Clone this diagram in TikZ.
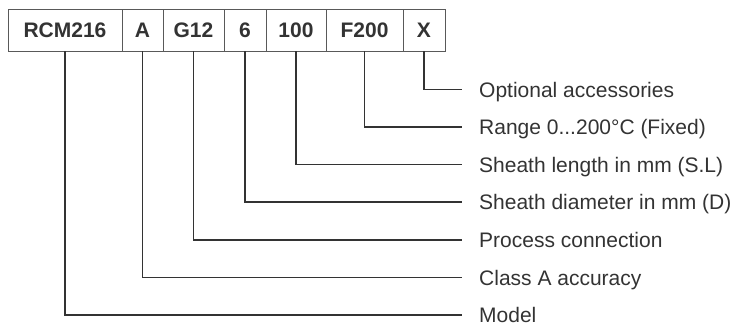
\documentclass[tikz,border=0pt]{standalone}
\usepackage{fontspec}
\setmainfont{Liberation Sans}
\tikzset{%
  codebox/.style={rectangle, draw=black!65, line width=0.9pt, minimum height=42pt, inner sep=0pt, text=black!80, font=\fontsize{21}{24}\selectfont\bfseries},
  desc/.style={anchor=west, inner xsep=17pt, inner ysep=0pt, text height=15pt, text depth=0pt, text=black!80, font=\fontsize{21}{24}\selectfont},
  leader/.style={draw=black!80, line width=1.3pt}}

\begin{document}
\begin{tikzpicture}[x=1pt, y=-1pt]
  \useasboundingbox (0, 0) rectangle (737, 322);

  % order code fields
  \foreach \name/\cx/\w/\txt in {model/65/114/RCM216, cls/142.5/41/A, conn/193.5/61/G12, diam/245/42/6, len/296/60/100, range/364.5/77/F200, opt/424/42/X} {
    \node [codebox, minimum width=\w pt] (\name) at (\cx, 30) {\txt};
  }

  % meaning of each field
  \foreach \name/\y/\txt in {opt/89.5/Optional accessories, range/127/{Range 0{.}{.}{.}200°C (Fixed)}, len/164.5/Sheath length in mm (S.L), diam/202/Sheath diameter in mm (D), conn/240/Process connection, cls/277.5/Class A accuracy, model/315/Model} {
    \node [desc] (\name desc) at (462, \y) {\txt};
    \draw [leader] (\name.south) |- (\name desc.west);
  }
\end{tikzpicture}
\end{document}
